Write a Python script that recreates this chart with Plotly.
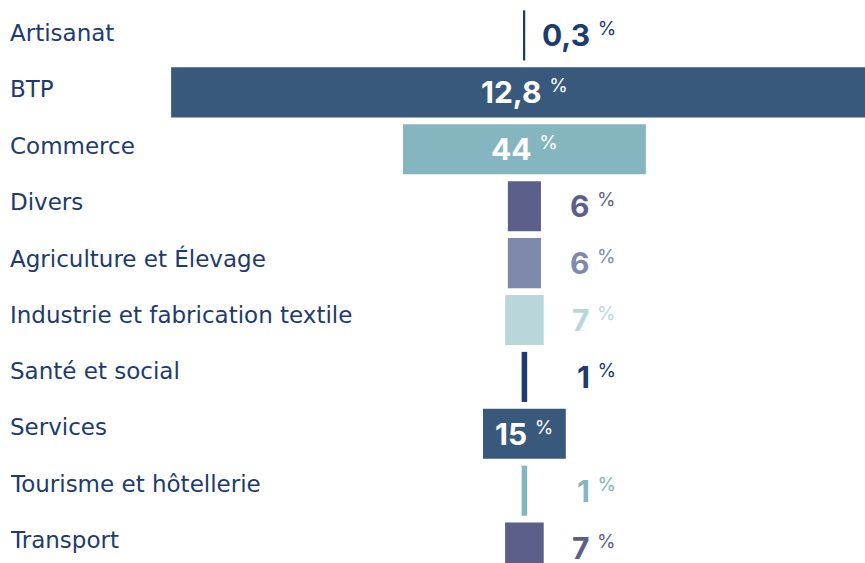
import plotly.graph_objects as go

categories = ["Artisanat", "BTP", "Commerce", "Divers", "Agriculture et Élevage",
              "Industrie et fabrication textile", "Santé et social", "Services",
              "Tourisme et hôtellerie", "Transport"]
values = [0.3, 128, 44, 6, 6, 7, 1, 15, 1, 7]
value_labels = ["0,3", "12,8", "44", "6", "6", "7", "1", "15", "1", "7"]
colors = ["#1d3b6e", "#38587c", "#85b5bf", "#5d5f8b", "#7f89ab",
          "#b9d6db", "#1d3b6e", "#38587c", "#85b5bf", "#5d5f8b"]

NAVY = "#1d3b6e"
LABEL_FONT = "DejaVu Sans"
VALUE_FONT = "Inter"
ypos = list(range(len(categories)))

fig = go.Figure()
fig.add_trace(go.Bar(
    y=ypos, x=values, base=[-v / 2 for v in values], orientation="h",
    marker=dict(color=colors, line=dict(width=0)), hoverinfo="skip",
))

annotations = []
for i, (cat, v, lab, c) in enumerate(zip(categories, values, value_labels, colors)):
    annotations.append(dict(
        x=0, xref="paper", y=i, yref="y", xanchor="left", yanchor="middle",
        xshift=8, yshift=2.5 + 0.57 * i, text=cat, showarrow=False,
        font=dict(family=LABEL_FONT, size=23, color=NAVY),
    ))
    txt = f"<b>{lab}</b><span style='font-size:27px'> <sup>%</sup></span>"
    if v > 10:
        annotations.append(dict(
            x=0, y=i, xref="x", yref="y", xanchor="center", yanchor="middle",
            text=txt, showarrow=False, yshift=0,
            font=dict(family=VALUE_FONT, size=30, color="white"),
        ))
    else:
        annotations.append(dict(
            x=17.0, y=i, xref="x", yref="y", xanchor="right", yanchor="middle",
            text=txt, showarrow=False, yshift=0,
            font=dict(family=VALUE_FONT, size=30, color=c),
        ))

fig.update_layout(
    width=865, height=563,
    margin=dict(l=0, r=0, t=7, b=0),
    paper_bgcolor="white", plot_bgcolor="white",
    bargap=0.12, showlegend=False,
    xaxis=dict(range=[-95.0, 61.7], visible=False, fixedrange=True),
    yaxis=dict(range=[9.27, -0.5], visible=False, fixedrange=True),
    annotations=annotations,
)

fig.write_html("out.html", config={"displayModeBar": False})
